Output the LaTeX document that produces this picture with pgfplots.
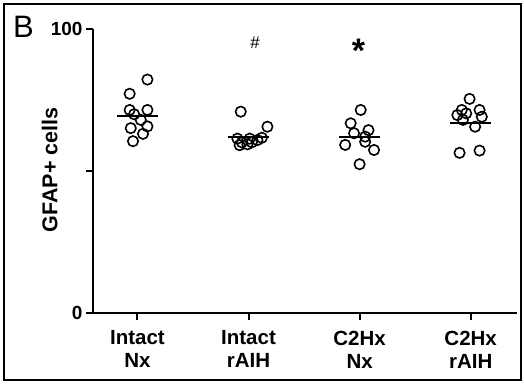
\documentclass[border=0pt]{standalone}
\usepackage{fontspec}
\setmainfont{Liberation Sans}
\usepackage{pgfplots}
\pgfplotsset{compat=1.18}
\begin{document}
\begin{tikzpicture}[x=1bp,y=1bp]
\useasboundingbox (-93,-69.7) rectangle (431,313.3);
\draw[line width=1.2bp] (-89,-66.7) rectangle (428,309.3);
\node[anchor=base west, font=\fontsize{31bp}{36bp}\selectfont, inner sep=0] at (-80,276.3) {B};
\begin{axis}[
  at={(0,0)}, anchor=south west,
  scale only axis, width=424bp, height=284bp,
  xmin=-0.4, xmax=3.417, ymin=0, ymax=100,
  axis x line*=bottom, axis y line*=left,
  axis line style={line width=2bp},
  tick align=outside, major tick length=7bp,
  major tick style={line width=2bp, black},
  ytick={0,50,100}, yticklabels={0,,100},
  xtick={0,1,2,3},
  xticklabels={{Intact\\Nx},{Intact\\rAIH},{C2Hx\\Nx},{C2Hx\\rAIH}},
  xticklabel style={align=center, yshift=-7bp, font=\fontsize{20.5bp}{23bp}\selectfont\bfseries},
  yticklabel style={font=\fontsize{19bp}{22bp}\selectfont\bfseries},
  /pgf/number format/assume math mode=true,
  ylabel={GFAP+ cells},
  ylabel style={at={(axis description cs:-0.102,0.505)}, anchor=center, font=\fontsize{21.5bp}{24bp}\selectfont\bfseries},
  clip=false,
]
\addplot[only marks, mark=o, mark size=5.2bp, mark options={line width=1.6bp, black}] table {
x y
0.09 82.3
-0.07 77.3
-0.07 71.6
0.09 71.6
-0.03 70.1
0.03 68.1
-0.06 65.2
0.09 65.8
0.05 63.2
-0.04 60.6
};
\addplot[only marks, mark=o, mark size=5.2bp, mark options={line width=1.6bp, black}] table {
x y
0.93 71.0
1.17 65.7
0.90 61.5
0.94 60.2
0.99 59.5
1.03 60.2
1.08 61.0
1.12 61.8
0.92 59.2
1.01 61.5
};
\addplot[only marks, mark=o, mark size=5.2bp, mark options={line width=1.6bp, black}] table {
x y
2.01 71.6
1.92 66.9
2.08 64.5
1.95 63.4
2.05 62.2
1.87 59.3
2.05 60.4
2.13 57.5
2.00 52.5
};
\addplot[only marks, mark=o, mark size=5.2bp, mark options={line width=1.6bp, black}] table {
x y
2.99 75.5
2.92 71.6
3.08 71.6
2.88 69.8
2.96 70.4
3.10 69.2
2.93 68.1
3.04 65.7
2.90 56.5
3.08 57.3
};
\addplot[black, line width=2bp] coordinates {(-0.185,69.4) (0.185,69.4)};
\addplot[black, line width=2bp] coordinates {(0.815,62.2) (1.185,62.2)};
\addplot[black, line width=2bp] coordinates {(1.815,62.2) (2.185,62.2)};
\addplot[black, line width=2bp] coordinates {(2.815,66.9) (3.185,66.9)};
\node[font=\fontsize{17bp}{19bp}\selectfont] at (axis cs:1.06,95.2) {\#};
\node[font=\fontsize{34bp}{36bp}\selectfont\bfseries, anchor=center] at (axis cs:1.99,92.4) {*};
\end{axis}
\end{tikzpicture}
\end{document}
